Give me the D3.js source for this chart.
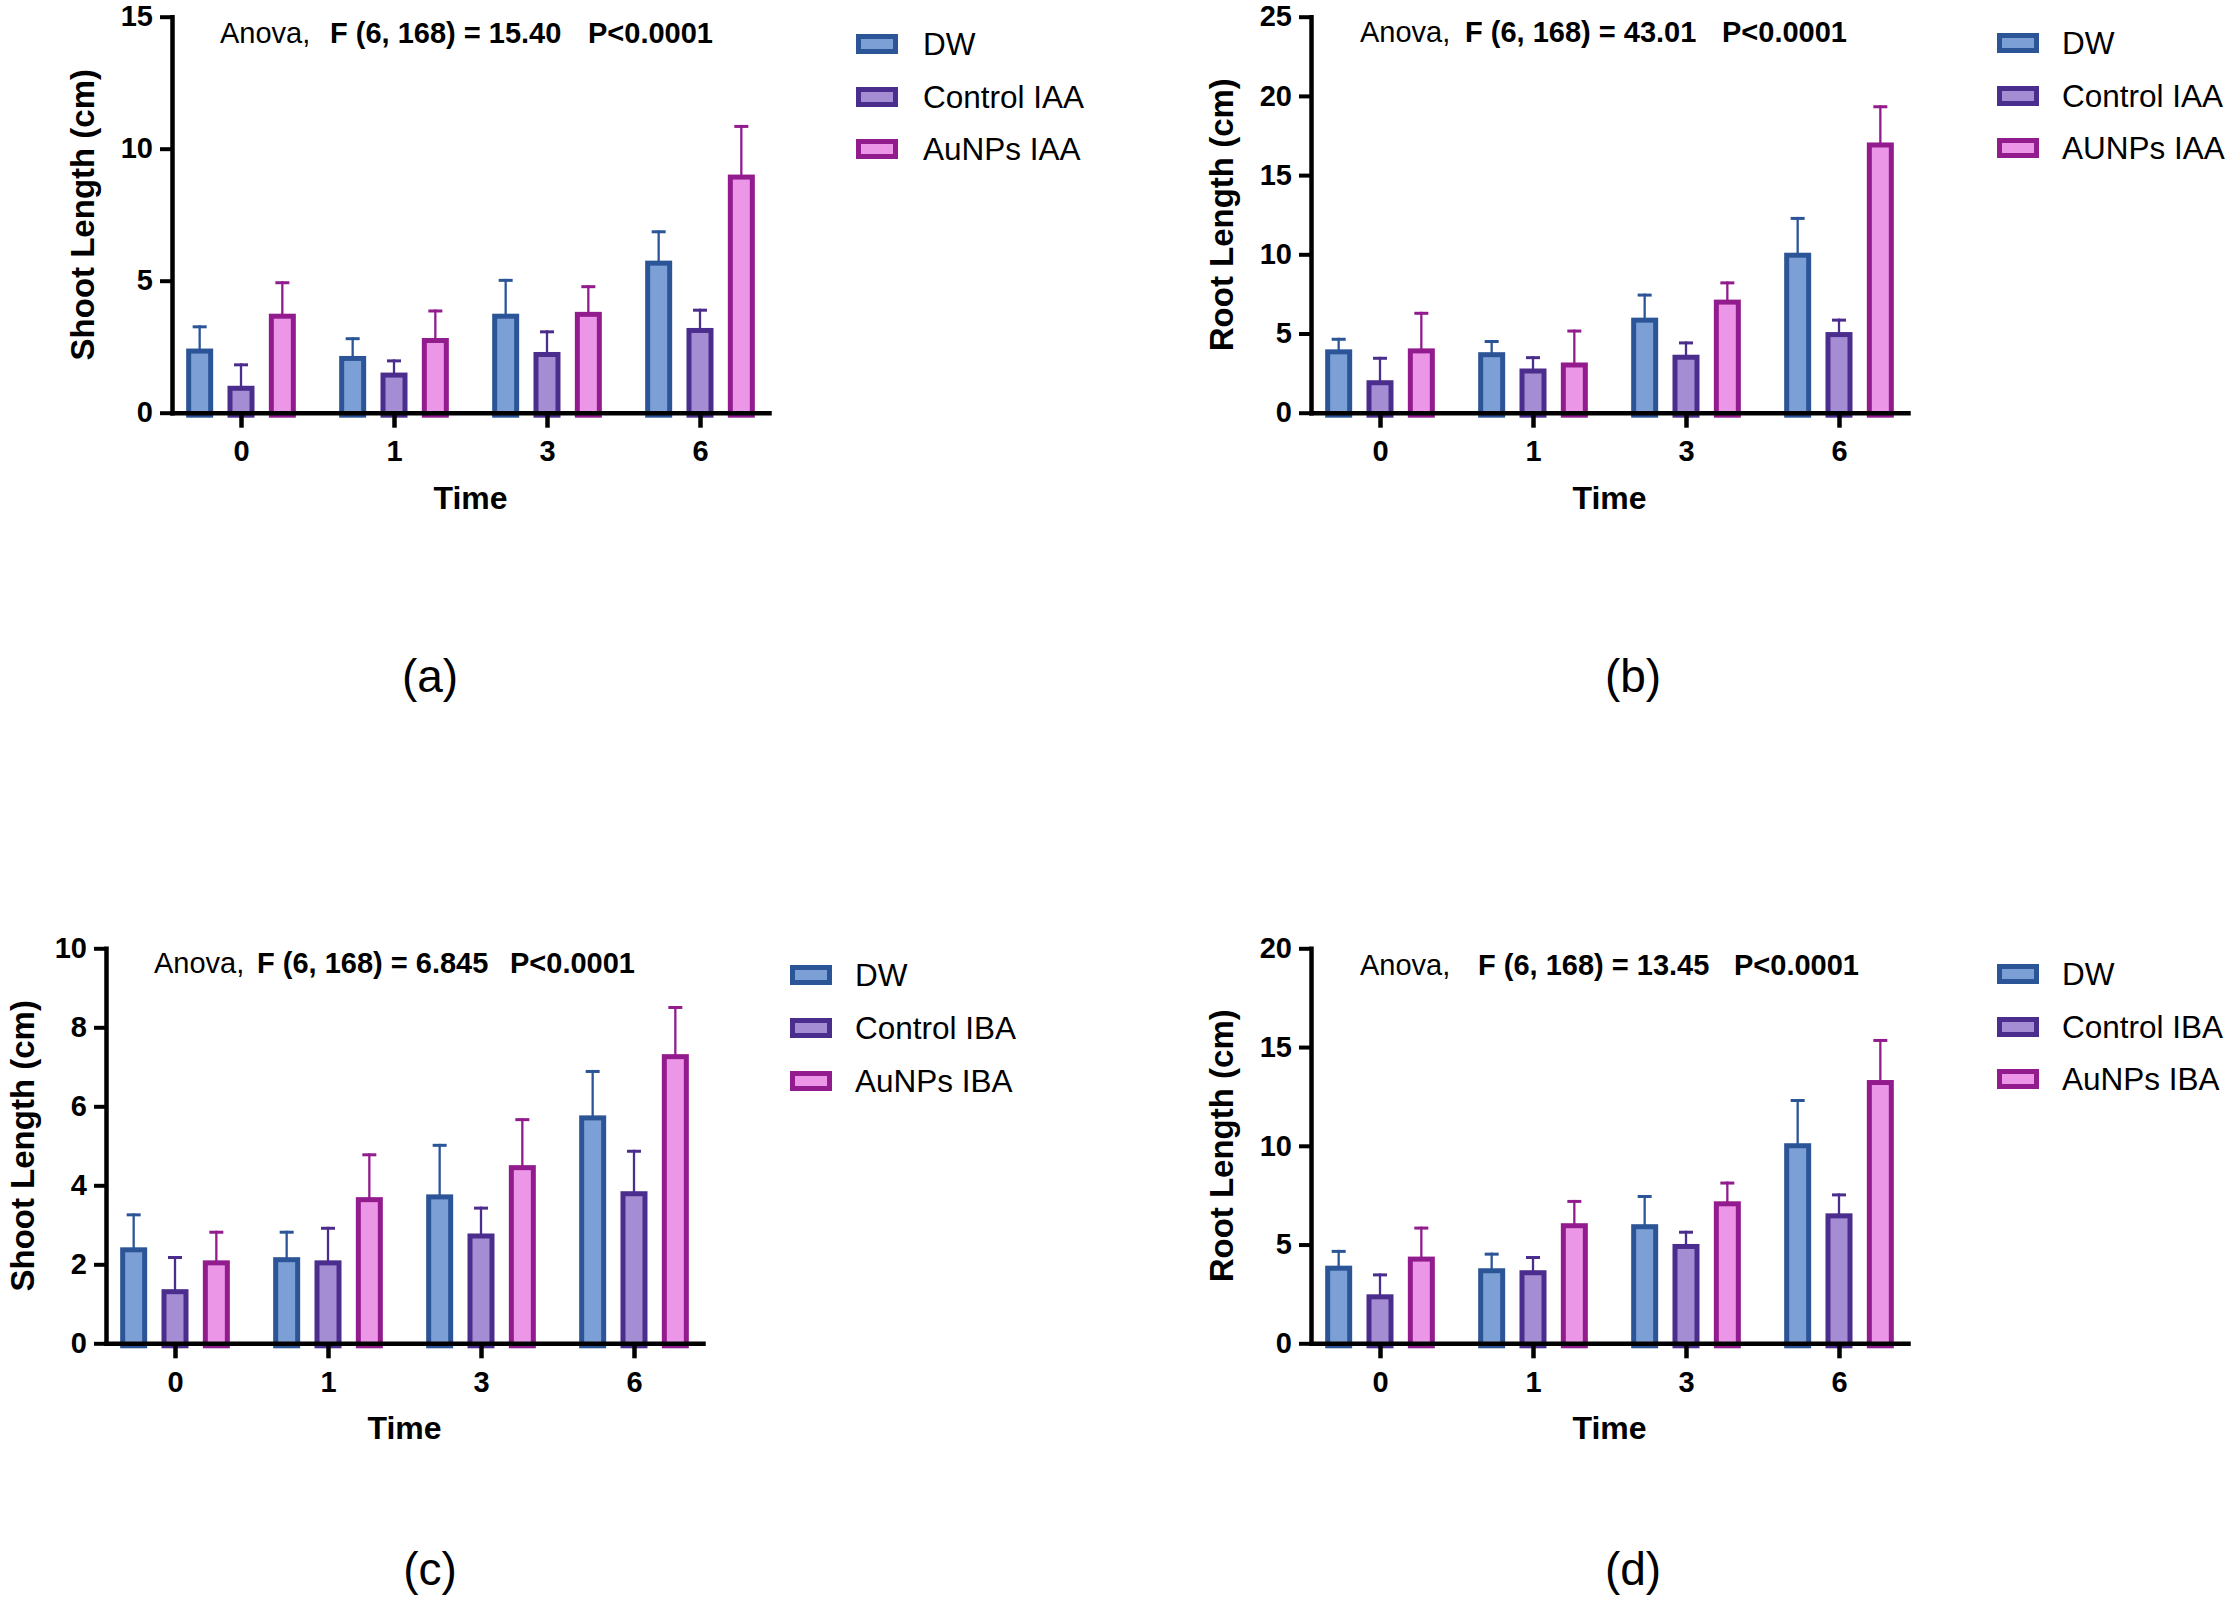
<!DOCTYPE html>
<html>
<head>
<meta charset="utf-8">
<script src="https://cdn.jsdelivr.net/npm/d3@7"></script>
<style>
  body { margin: 0; background: #ffffff; }
  svg { display: block; background: #ffffff; }
  text { font-family: "Liberation Sans", Arial, Helvetica, sans-serif; fill: #000; }
</style>
</head>
<body>
<svg id="chart" width="2232" height="1600"></svg>
<script>
// ---------------- DATA ----------------
const categories = ["0", "1", "3", "6"];
const seriesKeys = ["DW", "Control", "AuNPs"];

// (a) Shoot length, IAA
const shootIAA_DW        = [2.43, 2.15, 3.75, 5.76];
const shootIAA_DW_err    = [0.88, 0.71, 1.32, 1.15];
const shootIAA_Ctrl      = [1.02, 1.52, 2.30, 3.21];
const shootIAA_Ctrl_err  = [0.85, 0.50, 0.82, 0.73];
const shootIAA_AuNP      = [3.75, 2.83, 3.82, 9.02];
const shootIAA_AuNP_err  = [1.23, 1.08, 1.01, 1.88];

// (b) Root length, IAA
const rootIAA_DW         = [4.00, 3.82, 6.00, 10.10];
const rootIAA_DW_err     = [0.73, 0.77, 1.52, 2.26];
const rootIAA_Ctrl       = [2.05, 2.79, 3.66, 5.09];
const rootIAA_Ctrl_err   = [1.48, 0.78, 0.84, 0.85];
const rootIAA_AuNP       = [4.06, 3.17, 7.14, 17.06];
const rootIAA_AuNP_err   = [2.31, 2.08, 1.15, 2.35];

// (c) Shoot length, IBA
const shootIBA_DW        = [2.43, 2.18, 3.77, 5.77];
const shootIBA_DW_err    = [0.86, 0.67, 1.28, 1.15];
const shootIBA_Ctrl      = [1.37, 2.10, 2.78, 3.85];
const shootIBA_Ctrl_err  = [0.84, 0.85, 0.68, 1.05];
const shootIBA_AuNP      = [2.10, 3.70, 4.51, 7.32];
const shootIBA_AuNP_err  = [0.75, 1.11, 1.19, 1.22];

// (d) Root length, IBA
const rootIBA_DW         = [3.93, 3.80, 6.03, 10.13];
const rootIBA_DW_err     = [0.80, 0.79, 1.48, 2.24];
const rootIBA_Ctrl       = [2.48, 3.70, 5.03, 6.58];
const rootIBA_Ctrl_err   = [1.06, 0.72, 0.67, 1.01];
const rootIBA_AuNP       = [4.39, 6.08, 7.19, 13.33];
const rootIBA_AuNP_err   = [1.52, 1.18, 1.00, 2.08];

// tick labels
const yTicksA = [0, 5, 10, 15];
const yTicksB = [0, 5, 10, 15, 20, 25];
const yTicksC = [0, 2, 4, 6, 8, 10];
const yTicksD = [0, 5, 10, 15, 20];

// legends
const legendA = ["DW", "Control IAA", "AuNPs IAA"];
const legendB = ["DW", "Control IAA", "AUNPs IAA"];
const legendC = ["DW", "Control IBA", "AuNPs IBA"];
const legendD = ["DW", "Control IBA", "AuNPs IBA"];

// annotations
const anovaA = ["Anova,", "F (6, 168) = 15.40", "P<0.0001"];
const anovaB = ["Anova,", "F (6, 168) = 43.01", "P<0.0001"];
const anovaC = ["Anova,", "F (6, 168) = 6.845", "P<0.0001"];
const anovaD = ["Anova,", "F (6, 168) = 13.45", "P<0.0001"];

const yTitles = ["Shoot Length (cm)", "Root Length (cm)", "Shoot Length (cm)", "Root Length (cm)"];
const xTitle = "Time";
const panelLabels = ["(a)", "(b)", "(c)", "(d)"];

// ---------------- STYLE / LAYOUT ----------------
const strokeColors = ["#2b5597", "#4a2d8c", "#921b8e"];
const fillColors   = ["#7ca0d6", "#a58dd4", "#ec96e8"];

const panels = [
  { means: [shootIAA_DW, shootIAA_Ctrl, shootIAA_AuNP], errs: [shootIAA_DW_err, shootIAA_Ctrl_err, shootIAA_AuNP_err],
    ticks: yTicksA, legend: legendA, anova: anovaA, yTitle: yTitles[0], label: panelLabels[0],
    x0: 172, x1: 769, yTop: 16.7, yZero: 412.7, yTitleOff: 78,
    anovaX: [220, 330, 588], anovaY: 43,
    legX: 856, legTextX: 923, legY: [44, 97, 149],
    labelX: 430, labelY: 692 },
  { means: [rootIAA_DW, rootIAA_Ctrl, rootIAA_AuNP], errs: [rootIAA_DW_err, rootIAA_Ctrl_err, rootIAA_AuNP_err],
    ticks: yTicksB, legend: legendB, anova: anovaB, yTitle: yTitles[1], label: panelLabels[1],
    x0: 1311, x1: 1908, yTop: 16.7, yZero: 412.7, yTitleOff: 78,
    anovaX: [1360, 1465, 1722], anovaY: 42,
    legX: 1997, legTextX: 2062, legY: [43, 96, 148],
    labelX: 1633, labelY: 692 },
  { means: [shootIBA_DW, shootIBA_Ctrl, shootIBA_AuNP], errs: [shootIBA_DW_err, shootIBA_Ctrl_err, shootIBA_AuNP_err],
    ticks: yTicksC, legend: legendC, anova: anovaC, yTitle: yTitles[2], label: panelLabels[2],
    x0: 106, x1: 703, yTop: 948.3, yZero: 1343.3, yTitleOff: 72,
    anovaX: [154, 257, 510], anovaY: 973,
    legX: 790, legTextX: 855, legY: [975, 1028, 1081],
    labelX: 430, labelY: 1585 },
  { means: [rootIBA_DW, rootIBA_Ctrl, rootIBA_AuNP], errs: [rootIBA_DW_err, rootIBA_Ctrl_err, rootIBA_AuNP_err],
    ticks: yTicksD, legend: legendD, anova: anovaD, yTitle: yTitles[3], label: panelLabels[3],
    x0: 1311, x1: 1908, yTop: 948.3, yZero: 1343.3, yTitleOff: 78,
    anovaX: [1360, 1478, 1734], anovaY: 975,
    legX: 1997, legTextX: 2062, legY: [974, 1027, 1079],
    labelX: 1633, labelY: 1585 }
];

const svg = d3.select("#chart");
svg.append("rect").attr("width", 2232).attr("height", 1600).attr("fill", "#fff");

const BAR_W = 22, BAR_SW = 5, AXIS_W = 4.5, CAP_W = 14;

panels.forEach(p => {
  const g = svg.append("g");
  const x = d3.scalePoint().domain(categories).range([p.x0, p.x1]).padding(0.451);
  const xInner = d3.scaleBand().domain(seriesKeys).range([-62, 62]);
  const yMax = p.ticks[p.ticks.length - 1];
  const y = d3.scaleLinear().domain([0, yMax]).range([p.yZero, p.yTop]);

  // bars + error bars
  seriesKeys.forEach((key, si) => {
    const rows = categories.map((c, ci) => ({ c, m: p.means[si][ci], e: p.errs[si][ci] }));
    const off = xInner(key) + xInner.bandwidth() / 2;
    const sg = g.append("g");
    sg.selectAll("line.stem").data(rows).join("line")
      .attr("x1", d => x(d.c) + off).attr("x2", d => x(d.c) + off)
      .attr("y1", d => y(d.m) + 2).attr("y2", d => y(d.m + d.e))
      .attr("stroke", strokeColors[si]).attr("stroke-width", 2.3);
    sg.selectAll("line.cap").data(rows).join("line")
      .attr("x1", d => x(d.c) + off - CAP_W / 2).attr("x2", d => x(d.c) + off + CAP_W / 2)
      .attr("y1", d => y(d.m + d.e) + 1.5).attr("y2", d => y(d.m + d.e) + 1.5)
      .attr("stroke", strokeColors[si]).attr("stroke-width", 3);
    sg.selectAll("rect").data(rows).join("rect")
      .attr("x", d => x(d.c) + off - BAR_W / 2)
      .attr("width", BAR_W)
      .attr("y", d => y(d.m) + BAR_SW / 2)
      .attr("height", d => Math.max(0, y(0) - y(d.m)))
      .attr("fill", fillColors[si])
      .attr("stroke", strokeColors[si])
      .attr("stroke-width", BAR_SW);
  });

  // y axis
  const ya = g.append("g").attr("transform", `translate(${p.x0},0)`)
    .call(d3.axisLeft(y).tickValues(p.ticks).tickFormat(d3.format("d")).tickSize(12).tickSizeOuter(0).tickPadding(7));
  // x axis
  const xa = g.append("g").attr("transform", `translate(0,${p.yZero})`)
    .call(d3.axisBottom(x).tickSize(15).tickSizeOuter(0).tickPadding(13));
  [ya, xa].forEach(a => {
    a.select(".domain").attr("stroke", "#000").attr("stroke-width", AXIS_W).attr("stroke-linecap", "square");
    a.selectAll(".tick line").attr("stroke", "#000").attr("stroke-width", AXIS_W);
    a.selectAll(".tick text").attr("font-size", 29).attr("font-weight", "bold")
      .attr("font-family", '"Liberation Sans", Arial, sans-serif').attr("fill", "#000");
  });
  ya.selectAll(".tick line").attr("stroke-width", 4);

  // axis titles
  g.append("text")
    .attr("transform", `translate(${p.x0 - p.yTitleOff},${(p.yTop + p.yZero) / 2}) rotate(-90)`)
    .attr("text-anchor", "middle").attr("font-size", 33).attr("font-weight", "bold")
    .text(p.yTitle);
  g.append("text")
    .attr("x", (p.x0 + p.x1) / 2).attr("y", p.yZero + 96)
    .attr("text-anchor", "middle").attr("font-size", 32).attr("font-weight", "bold")
    .text(xTitle);

  // anova annotation
  const at = g.append("text").attr("y", p.anovaY).attr("font-size", 29);
  p.anova.forEach((t, i) => {
    at.append("tspan").attr("x", p.anovaX[i]).attr("font-weight", i === 0 ? "normal" : "bold").text(t);
  });

  // legend
  const leg = g.append("g");
  p.legend.forEach((name, i) => {
    leg.append("rect")
      .attr("x", p.legX + 2.5).attr("y", p.legY[i] - 7.5)
      .attr("width", 37).attr("height", 15)
      .attr("fill", fillColors[i]).attr("stroke", strokeColors[i]).attr("stroke-width", 5);
    leg.append("text")
      .attr("x", p.legTextX).attr("y", p.legY[i] + 11)
      .attr("font-size", 31.5).text(name);
  });

  // panel label
  g.append("text").attr("x", p.labelX).attr("y", p.labelY)
    .attr("text-anchor", "middle").attr("font-size", 46).text(p.label);
});
</script>
</body>
</html>
